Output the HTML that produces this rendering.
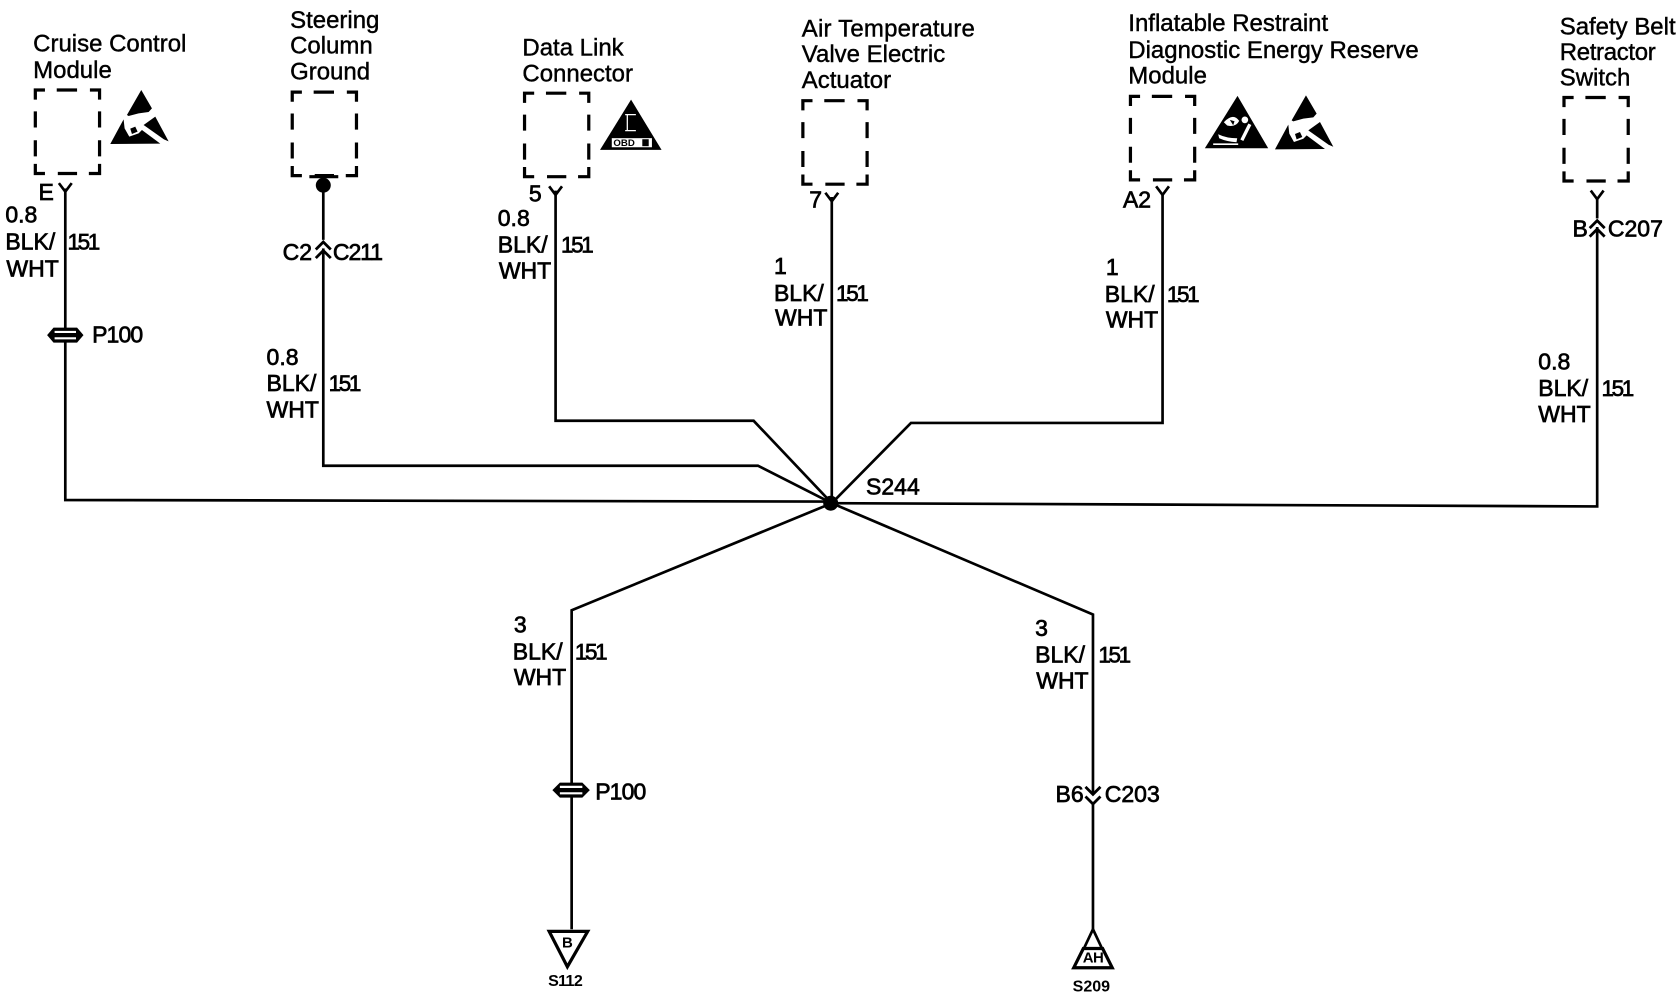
<!DOCTYPE html>
<html><head><meta charset="utf-8"><style>
html,body{margin:0;padding:0;background:#fff;width:1678px;height:1008px;overflow:hidden}
svg{display:block}
text{font-family:"Liberation Sans",sans-serif;font-size:21.5px;fill:#000;stroke:#000;stroke-width:.65}
.t text{font-size:22.4px;stroke-width:.4}
.n{font-size:21px;letter-spacing:-2.2px}
.w{fill:none;stroke:#000;stroke-width:2.5;stroke-linejoin:miter}
.b{fill:none;stroke:#000;stroke-width:3}
</style></head><body>
<svg width="1678" height="1008" viewBox="0 0 1567.5 941.5" xmlns="http://www.w3.org/2000/svg">
<rect width="1567.5" height="941.5" fill="#fff"/>
<defs>
<path id="box" class="b" d="M0 9V0H9M20 0H39M51 0H60V9M0 20V35M0 47V62M0 69V78H9M21 78H39M50 78H60V69M60 20V35M60 47V62"/>
<path id="y" class="w" d="M-6 -7L0 1L6 -7"/>
<g id="esd" transform="scale(.3115) translate(-15 -30)">
<path d="M108 30L140 85L130 96L100 100L70 108L65 105Z" fill="#000"/>
<path d="M150 110L190 184L176 178L115 135Z" fill="#000"/>
<path d="M55 118L58 145L72 170L100 160L110 150L165 191L15 192Z" fill="#000"/>
<path d="M75 146L90 140L97 155L80 162Z" fill="#000"/>
</g>
</defs>

<!-- wires -->
<path class="w" d="M61 176V467L770 468.5"/>
<path class="w" d="M777 470L1492 473V186"/>
<path class="w" d="M302 175V435H708L777 470"/>
<path class="w" d="M519 178V393H704L777 470"/>
<path class="w" d="M777 184V470"/>
<path class="w" d="M1086 182V395H851L777 470"/>
<path class="w" d="M777 470L534 570V868"/>
<path class="w" d="M777 470L1021 574V868"/>
<circle cx="776" cy="470" r="7" fill="#000"/>

<!-- component boxes -->
<use href="#box" x="33" y="84"/>
<use href="#box" x="273" y="86"/>
<use href="#box" x="490" y="87"/>
<use href="#box" x="750" y="94"/>
<use href="#box" x="1056" y="90"/>
<use href="#box" x="1461" y="91"/>

<!-- pin connectors -->
<use href="#y" x="61" y="178"/>
<use href="#y" x="519" y="181"/>
<use href="#y" x="777" y="187"/>
<use href="#y" x="1086" y="181"/>
<use href="#y" x="1492" y="185"/>
<path d="M289 165H316" stroke="#000" stroke-width="3"/>
<circle cx="302" cy="173" r="7" fill="#000"/>

<!-- inline connectors -->
<g fill="none" stroke="#000" stroke-width="2.6">
<rect x="296" y="224" width="12" height="8" fill="#fff" stroke="none"/>
<path d="M295 233L302 226L309 233M295 241L302 234L309 241"/>
<rect x="1486" y="204" width="12" height="8" fill="#fff" stroke="none"/>
<path d="M1485 213L1492 206L1499 213M1485 221L1492 214L1499 221"/>
<rect x="1015" y="742" width="12" height="9" fill="#fff" stroke="none"/>
<path d="M1014 735L1021 742L1028 735M1014 744L1021 751L1028 744"/>
</g>

<!-- P100 symbols -->
<path d="M44 313L50 306H72L78 313L72 320H50Z" fill="#000"/>
<path d="M51 310H71M51 316H71" stroke="#fff" stroke-width="2"/>
<path d="M516 738L523 731H544L551 738L544 745H523Z" fill="#000"/>
<path d="M523 735H544M523 741H544" stroke="#fff" stroke-width="2"/>

<!-- ground terminals -->
<path d="M513 870H549L530 903Z" fill="#fff" stroke="#000" stroke-width="3"/>
<text x="530" y="885" text-anchor="middle" style="font-size:14px;font-weight:bold;stroke-width:0">B</text>
<text x="512" y="921" style="font-size:15px;font-weight:bold;stroke-width:0;letter-spacing:-.6px">S112</text>
<path d="M1021 868L1013 885" class="w"/><path d="M1021 868L1029 885" class="w"/>
<path d="M1003 904L1012 886H1030L1039 904Z" fill="#fff" stroke="#000" stroke-width="3"/>
<text x="1021" y="899" text-anchor="middle" style="font-size:14px;font-weight:bold;stroke-width:0;letter-spacing:-.6px">AH</text>
<text x="1002" y="926" style="font-size:15px;font-weight:bold;stroke-width:0">S209</text>

<!-- warning icons -->
<use href="#esd" x="103" y="84"/>
<use href="#esd" x="1191" y="89"/>
<path d="M589.5 93L618 140H560.5Z" fill="#000"/>
<path d="M584 107H594M586 107V122M584 122H594" stroke="#fff" stroke-width="1.2" fill="none"/>
<rect x="571.5" y="129" width="37.5" height="8.5" fill="#fff"/>
<text x="573" y="136.5" style="font-size:9px;font-weight:bold;stroke:none">OBD</text>
<rect x="600" y="130" width="6" height="6.5" fill="#000"/>
<!-- airbag warning -->
<g transform="translate(1125.5 89.5) scale(.3115) translate(-15 -33)">
<path d="M113 33L205 190H15Z" fill="#000"/>
<circle cx="135" cy="105" r="10" fill="#fff"/>
<path d="M72 112Q100 82 118 108Q108 128 82 122Z" fill="#fff"/>
<path d="M150 118L126 166" stroke="#fff" stroke-width="10"/>
<path d="M55 148Q80 160 112 160L110 172Q80 170 58 160Z" fill="#fff"/>
<path d="M40 178H115" stroke="#fff" stroke-width="5"/>
<path d="M90 105l14 4l-4 12z" fill="#000"/>
</g>

<!-- titles -->
<g class="t">
<text x="31" y="48">Cruise Control</text><text x="31" y="73">Module</text>
<text x="271" y="26">Steering</text><text x="271" y="50">Column</text><text x="271" y="74">Ground</text>
<text x="488" y="52">Data Link</text><text x="488" y="76">Connector</text>
<text x="749" y="34" style="letter-spacing:.2px">Air Temperature</text><text x="749" y="58">Valve Electric</text><text x="749" y="82">Actuator</text>
<text x="1054" y="29">Inflatable Restraint</text><text x="1054" y="54">Diagnostic Energy Reserve</text><text x="1054" y="78">Module</text>
<text x="1457" y="32">Safety Belt</text><text x="1457" y="56" style="letter-spacing:-.3px">Retractor</text><text x="1457" y="80">Switch</text>
</g>

<!-- wire labels -->
<text x="36" y="187">E</text>
<text x="5" y="208">0.8</text><text x="5" y="233">BLK/</text><text x="6" y="258">WHT</text><text class="n" x="63" y="233">151</text>
<text x="86" y="320" style="letter-spacing:-.8px">P100</text>
<text x="264" y="243">C2</text><text x="311" y="243" style="letter-spacing:-1px">C211</text>
<text x="249" y="341">0.8</text><text x="249" y="365">BLK/</text><text x="249" y="390">WHT</text><text class="n" x="307" y="365">151</text>
<text x="494" y="188">5</text>
<text x="465" y="211">0.8</text><text x="465" y="236">BLK/</text><text x="466" y="260">WHT</text><text class="n" x="524" y="236">151</text>
<text x="756" y="194">7</text>
<text x="723" y="256">1</text><text x="723" y="281">BLK/</text><text x="724" y="304">WHT</text><text class="n" x="781" y="281">151</text>
<text x="1049" y="194">A2</text>
<text x="1033" y="257">1</text><text x="1032" y="282">BLK/</text><text x="1033" y="306">WHT</text><text class="n" x="1090" y="282">151</text>
<text x="1469" y="221">B</text><text x="1502" y="221">C207</text>
<text x="1437" y="345">0.8</text><text x="1437" y="370">BLK/</text><text x="1437" y="394">WHT</text><text class="n" x="1496" y="370">151</text>
<text x="809" y="462">S244</text>
<text x="480" y="591">3</text><text x="479" y="616">BLK/</text><text x="480" y="640">WHT</text><text class="n" x="537" y="616">151</text>
<text x="967" y="594">3</text><text x="967" y="619">BLK/</text><text x="968" y="643">WHT</text><text class="n" x="1026" y="619">151</text>
<text x="556" y="747" style="letter-spacing:-.8px">P100</text>
<text x="986" y="749">B6</text><text x="1032" y="749">C203</text>
</svg>
</body></html>
